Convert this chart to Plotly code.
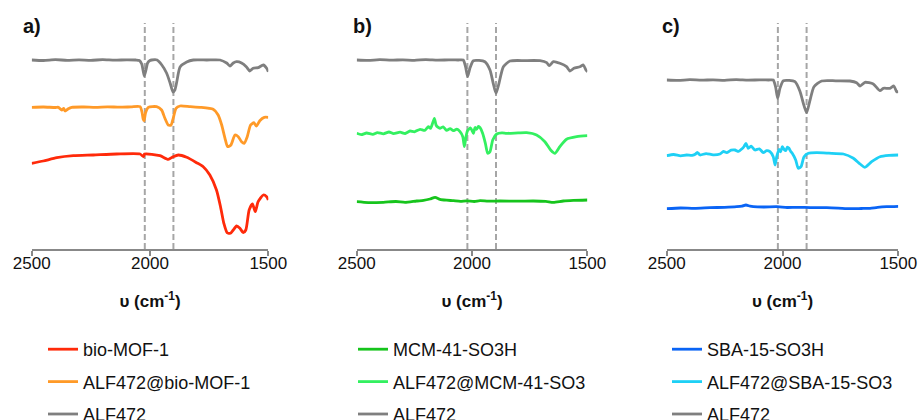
import plotly.graph_objects as go

# ---------------- data (wavenumber cm-1, transmittance a.u. offset) ----------------
# Panel a
a_alf_x = [2500, 2450, 2400, 2350, 2300, 2250, 2200, 2150, 2100, 2060, 2045, 2035, 2028, 2024, 2018, 2010, 2000,
           1993, 1970, 1950, 1930, 1915, 1903, 1895, 1887, 1873, 1845, 1817, 1760, 1704, 1676, 1662, 1648, 1634,
           1613, 1592, 1578, 1564, 1543, 1521, 1507, 1500]
a_alf_y = [189, 188.5, 189.3, 188.7, 189.2, 188.6, 189.4, 188.8, 189.2, 189, 188.5, 185, 177, 173, 178, 186, 188.5,
           189, 189, 184, 176, 166, 157, 159, 167, 182, 187, 189, 189, 189, 186, 183, 186, 187.3,
           186, 182, 178, 180.7, 181.3, 184, 180.7, 177.3]

a_mix_x = [2500, 2450, 2400, 2387, 2373, 2365, 2359, 2345, 2331, 2280, 2230, 2180, 2130, 2080, 2042, 2034, 2029,
           2025, 2019, 2007, 1972, 1951, 1937, 1923, 1911, 1902, 1890, 1873, 1830, 1789, 1733, 1712, 1697, 1683,
           1672, 1658, 1641, 1627, 1613, 1602, 1589, 1575, 1561, 1550, 1536, 1517, 1500]
a_mix_y = [141.7, 142, 141.5, 141.7, 139, 140.5, 138, 140.3, 141.7, 142, 141.6, 142.2, 141.8, 142.1, 142.3, 137, 130,
           128.3, 136, 141.7, 142.3, 139, 130.7, 124, 124, 130.7, 140.7, 143, 142.3, 141.7, 139.7, 134, 124, 110.7,
           102.3, 104, 114, 112.3, 107.3, 105.7, 112.3, 124, 126.3, 123, 128.3, 131.7, 131.7]

a_mof_x = [2500, 2451, 2394, 2324, 2240, 2141, 2042, 2028, 2023, 1958, 1923, 1902, 1880, 1845, 1803, 1775, 1747,
           1719, 1702, 1688, 1674, 1660, 1648, 1634, 1620, 1606, 1595, 1581, 1567, 1555, 1543, 1521, 1507, 1500]
a_mof_y = [85.7, 88, 91.3, 93.3, 94, 95, 95, 92.3, 95, 93.3, 89.7, 92.3, 94, 91.7, 86.3, 82.3, 74,
           59, 42.3, 25.7, 16.3, 15.7, 19, 23, 20.7, 16.3, 19, 39, 45, 37.3, 47.3, 54, 52.3, 49]

# Panel b
b_alf_x = [2500, 2450, 2400, 2350, 2300, 2250, 2200, 2150, 2100, 2060, 2038, 2028, 2019, 2009, 1994, 1944, 1922,
           1908, 1896, 1883, 1864, 1835, 1770, 1705, 1676, 1665, 1647, 1619, 1590, 1575, 1558, 1532, 1517, 1506, 1499]
b_alf_y = [189, 188.6, 189.3, 188.8, 189.2, 188.7, 189.4, 188.9, 189.1, 189, 189, 182.3, 172.3, 180.7, 188.3, 187.3, 179,
           165.7, 155.7, 165.7, 182.3, 188, 188.4, 188.3, 186.3, 183.3, 187.3, 185.7, 182.3, 178, 180.7, 182.3, 184, 179, 177.3]

b_mix_x = [2500, 2480, 2457, 2430, 2410, 2384, 2360, 2340, 2312, 2290, 2269, 2250, 2225, 2205, 2189, 2180, 2171,
           2163, 2156, 2148, 2139, 2125, 2110, 2095, 2081, 2066, 2052, 2040, 2033, 2026, 2019, 2006, 1994, 1987, 1980,
           1972, 1965, 1954, 1942, 1932, 1922, 1910, 1893, 1870, 1850, 1800, 1763, 1720, 1684, 1659, 1640, 1619,
           1590, 1546, 1499]
b_mix_y = [115.7, 114.3, 116, 114.6, 116.4, 115.2, 117, 115.4, 116.8, 115.5, 118, 117.2, 119.7, 118.6, 122.3, 120.6, 125.7,
           130.7, 124, 121.8, 120.7, 122.2, 118.6, 120.4, 118.3, 119.8, 117.3, 112.3, 102.3, 112.3, 118.5, 121, 115.7, 121.5, 119.7,
           122.5, 121.3, 115.7, 105.7, 95.7, 97.3, 109, 115, 116.2, 115.7, 116.1, 116.3, 114, 107.3, 99, 95.7, 102.3,
           109.7, 112.3, 113.3]

b_mcm_x = [2500, 2450, 2384, 2330, 2290, 2240, 2210, 2182, 2160, 2139, 2110, 2081, 2050, 2023, 1990, 1965, 1930,
           1879, 1800, 1734, 1680, 1647, 1604, 1560, 1499]
b_mcm_y = [47.3, 46.4, 46.7, 47.5, 46.6, 48, 48.6, 50, 51.7, 49.7, 48.8, 48.3, 47.6, 48.2, 47.5, 48.4, 47.8,
           48, 47.8, 48, 47.6, 46.7, 48, 48.6, 49]

# Panel c
c_alf_x = [2500, 2450, 2400, 2350, 2300, 2250, 2200, 2150, 2100, 2060, 2040, 2030, 2021, 2011, 1996, 1946, 1924,
           1910, 1896, 1881, 1864, 1831, 1770, 1709, 1680, 1665, 1644, 1608, 1579, 1565, 1536, 1519, 1507, 1500]
c_alf_y = [169, 168.6, 169.3, 168.8, 169.2, 168.7, 169.4, 168.9, 169.1, 169, 169, 162.3, 150.7, 160.7, 168.3, 167.3, 157.3,
           145.7, 136.3, 149, 162.3, 168, 168.2, 168, 166.3, 163, 166.7, 165, 158.3, 160.7, 160.7, 163, 157.3, 157.3]

c_mix_x = [2500, 2470, 2440, 2414, 2390, 2375, 2368, 2356, 2330, 2300, 2270, 2255, 2241, 2222, 2205, 2190, 2176,
           2166, 2158, 2148, 2135, 2119, 2100, 2083, 2068, 2054, 2040, 2032, 2025, 2015, 2008, 2001, 1993, 1986, 1979,
           1972, 1965, 1958, 1943, 1932, 1920, 1907, 1888, 1852, 1800, 1737, 1694, 1665, 1644, 1615, 1579, 1540, 1500]
c_mix_y = [93.3, 94.5, 93.2, 94, 93.6, 95, 96.7, 94, 95.4, 94.2, 95, 97.5, 96.3, 98.8, 99, 97.6, 100,
           102.5, 105.7, 100.7, 102.8, 99, 100.2, 96.3, 98.4, 97.3, 92.3, 84, 92.3, 99.7, 97.2, 102.3, 99.5, 98.3, 101.8,
           100.7, 97.8, 95.7, 89, 80.7, 82.3, 92.3, 95.7, 96.3, 95.8, 95, 90.7, 85, 81.7, 87.3, 92.3, 93.6, 94]

c_sba_x = [2500, 2440, 2380, 2313, 2250, 2198, 2175, 2158, 2140, 2126, 2080, 2025, 1980, 1939, 1880, 1809, 1760,
           1709, 1660, 1622, 1590, 1550, 1500]
c_sba_y = [40.3, 41, 40.6, 41.3, 41.7, 42.3, 42.8, 44, 42.8, 42.3, 42, 42.3, 41.5, 41.7, 41.4, 41.3, 40.9,
           40.3, 40.5, 40.7, 41.6, 42.3, 42.7]

# dashed reference wavenumbers per panel
dash_a = [2022, 1901]
dash_b = [2020, 1896]
dash_c = [2020, 1896]

tick_vals = [2500, 2000, 1500]
tick_text = ["2500", "2000", "1500"]
panel_labels = ["a)", "b)", "c)"]
axis_title = "<b>υ (cm<sup>-1</sup>)</b>"

# ---------------- figure ----------------
GRAY = "#7f7f7f"
FONT = "Liberation Sans, Arial, sans-serif"
TXT = "#111111"

panels = [
    dict(xa="x", ya="y", legend="legend", dash=dash_a, series=[
        ("bio-MOF-1", a_mof_x, a_mof_y, "#ff2a0a"),
        ("ALF472@bio-MOF-1", a_mix_x, a_mix_y, "#ff9a28"),
        ("ALF472", a_alf_x, a_alf_y, GRAY)]),
    dict(xa="x2", ya="y2", legend="legend2", dash=dash_b, series=[
        ("MCM-41-SO3H", b_mcm_x, b_mcm_y, "#16c41c"),
        ("ALF472@MCM-41-SO3", b_mix_x, b_mix_y, "#33f060"),
        ("ALF472", b_alf_x, b_alf_y, GRAY)]),
    dict(xa="x3", ya="y3", legend="legend3", dash=dash_c, series=[
        ("SBA-15-SO3H", c_sba_x, c_sba_y, "#0a64f5"),
        ("ALF472@SBA-15-SO3", c_mix_x, c_mix_y, "#1ed0f5"),
        ("ALF472", c_alf_x, c_alf_y, GRAY)]),
]

fig = go.Figure()
shapes = []
for pi, p in enumerate(panels):
    for si, (name, xs, ys, col) in enumerate(p["series"]):
        fig.add_trace(go.Scatter(
            x=xs, y=ys, mode="lines", name=name,
            line=dict(color=col, width=2.8, shape="spline", smoothing=0.6),
            xaxis=p["xa"], yaxis=p["ya"], legend=p["legend"],
            legendgroup=f"p{pi}s{si}", legendrank=si + 1,
        ))
    for wn in p["dash"]:
        shapes.append(dict(type="line", xref=p["xa"], yref=p["ya"], x0=wn, x1=wn, y0=0, y1=226,
                           line=dict(color="#a6a6a6", width=2, dash="6px,3px"), layer="below"))

x_domains = [[31.7 / 920, 268.3 / 920], [356.7 / 920, 587.3 / 920], [666.7 / 920, 898.3 / 920]]
y_domain = [(420 - 249) / 420, (420 - 19) / 420]

layout = dict(
    width=920, height=420,
    margin=dict(l=0, r=0, t=0, b=0, autoexpand=False),
    paper_bgcolor="white", plot_bgcolor="white",
    font=dict(family=FONT, size=17, color=TXT),
    shapes=shapes,
)
for i, dom in enumerate(x_domains):
    sfx = "" if i == 0 else str(i + 1)
    layout["xaxis" + sfx] = dict(
        domain=dom, range=[2500, 1500], anchor="y" + sfx, automargin=False,
        tickvals=tick_vals, ticktext=tick_text, ticks="outside", ticklen=5, tickwidth=2,
        tickcolor="#888888", showline=True, linecolor="#888888", linewidth=2,
        showgrid=False, zeroline=False, tickfont=dict(size=17, color=TXT),
        ticklabelstandoff=-7,
        title=dict(text=axis_title, font=dict(size=17, color=TXT, family=FONT), standoff=23),
    )
    layout["yaxis" + sfx] = dict(domain=y_domain, range=[0, 230], visible=False, anchor="x" + sfx,
                                 automargin=False)

legend_x = [43 / 920, 353 / 920, 667 / 920]
for i, lx in enumerate(legend_x):
    key = "legend" if i == 0 else f"legend{i + 1}"
    layout[key] = dict(
        x=lx, y=(420 - 331) / 420, xanchor="left", yanchor="top",
        orientation="v", traceorder="grouped", tracegroupgap=6,
        font=dict(size=18, color=TXT, family=FONT),
        bgcolor="rgba(0,0,0,0)", itemwidth=30,
    )

annotations = []
label_pos = [(32, 26), (362, 26), (671, 26)]
for (px, py), txt in zip(label_pos, panel_labels):
    annotations.append(dict(text=f"<b>{txt}</b>", x=px / 920, y=(420 - py) / 420, xref="paper", yref="paper",
                            xanchor="center", yanchor="middle", showarrow=False,
                            font=dict(size=20, color=TXT, family=FONT)))
layout["annotations"] = annotations

fig.update_layout(**layout)
fig.write_html("out.html", config={"displayModeBar": False},
               post_script="document.body.style.margin='0';document.body.style.overflow='hidden';")
